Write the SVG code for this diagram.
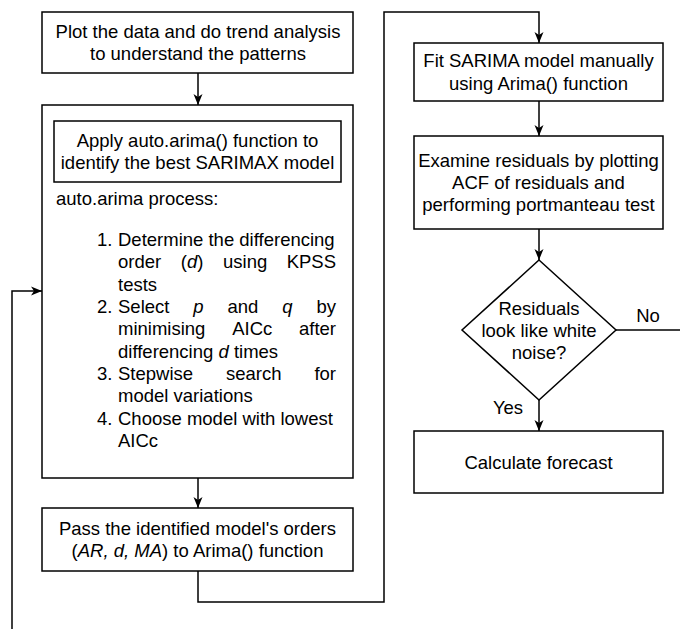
<svg xmlns="http://www.w3.org/2000/svg" width="680" height="629" viewBox="0 0 680 629">
<style>
.box{fill:#fff;stroke:#000;stroke-width:1.5}
.ln{fill:none;stroke:#000;stroke-width:1.5}
text{font-family:"Liberation Sans",Arial,Helvetica,sans-serif;font-size:18.5px;fill:#000}
.c{text-anchor:middle}
.e{text-anchor:end}
.i{font-style:italic}
</style>
<defs>
<marker id="arr" markerUnits="userSpaceOnUse" markerWidth="12" markerHeight="10" refX="11" refY="5" orient="auto">
<path d="M0,0.5 L11,5 L0,9.5 L3,5 Z" fill="#000"/>
</marker>
</defs>
<rect width="680" height="629" fill="#fff"/>
<g id="connectors">
<path class="ln" d="M198,73 V105" marker-end="url(#arr)"/>
<path class="ln" d="M198,478 V508" marker-end="url(#arr)"/>
<path class="ln" d="M198,571 V602 H384 V12 H539 V43" marker-end="url(#arr)"/>
<path class="ln" d="M539,101 V136" marker-end="url(#arr)"/>
<path class="ln" d="M539,229 V260" marker-end="url(#arr)"/>
<path class="ln" d="M539,400 V431" marker-end="url(#arr)"/>
<path class="ln" d="M616,330 H682"/>
<path class="ln" d="M12,632 V291 H42" marker-end="url(#arr)"/>
<text x="648" y="321.5" class="c">No</text>
<text x="508" y="413.5" class="c">Yes</text>
</g>
<g id="plot">
<rect class="box" x="42" y="12" width="311" height="61"/>
<text x="198" y="37.5" class="c">Plot the data and do trend analysis</text>
<text x="198" y="59.7" class="c">to understand the patterns</text>
</g>
<g id="autoarima">
<rect class="box" x="42" y="105" width="311" height="373"/>
<rect class="box" x="54" y="121" width="287" height="61"/>
<text x="197.5" y="146.9" class="c">Apply auto.arima() function to</text>
<text x="197.5" y="169.1" class="c">identify the best SARIMAX model</text>
<text x="56" y="205">auto.arima process:</text>
<text x="97" y="246">1.</text>
<text x="118" y="246">Determine the differencing</text>
<text x="118" y="268.3">order</text>
<text x="180.8" y="268.3">(<tspan class="i">d</tspan>)</text>
<text x="223" y="268.3">using</text>
<text x="336" y="268.3" class="e">KPSS</text>
<text x="118" y="290.7">tests</text>
<text x="97" y="313">2.</text>
<text x="118" y="313">Select</text>
<text x="193.3" y="313" class="i">p</text>
<text x="227.5" y="313">and</text>
<text x="282.3" y="313" class="i">q</text>
<text x="336" y="313" class="e">by</text>
<text x="118" y="335.4">minimising</text>
<text x="232.2" y="335.4">AICc</text>
<text x="336" y="335.4" class="e">after</text>
<text x="118" y="357.7">differencing <tspan class="i">d</tspan> times</text>
<text x="97" y="380">3.</text>
<text x="118" y="380">Stepwise</text>
<text x="226" y="380">search</text>
<text x="336" y="380" class="e">for</text>
<text x="118" y="402.4">model variations</text>
<text x="97" y="424.7">4.</text>
<text x="118" y="424.7">Choose model with lowest</text>
<text x="118" y="447">AICc</text>
</g>
<g id="pass">
<rect class="box" x="42" y="508" width="311" height="63"/>
<text x="197.5" y="534.9" class="c">Pass the identified model's orders</text>
<text x="197.5" y="557.1" class="c">(<tspan class="i">AR, d, MA</tspan>) to Arima() function</text>
</g>
<g id="fit">
<rect class="box" x="414" y="43" width="249" height="58"/>
<text x="538.5" y="67.4" class="c">Fit SARIMA model manually</text>
<text x="538.5" y="89.6" class="c">using Arima() function</text>
</g>
<g id="examine">
<rect class="box" x="414" y="136" width="249" height="93"/>
<text x="538.5" y="166.8" class="c">Examine residuals by plotting</text>
<text x="538.5" y="189" class="c">ACF of residuals and</text>
<text x="538.5" y="211.2" class="c">performing portmanteau test</text>
</g>
<g id="decision">
<path class="box" d="M539,260 L616,330 L539,400 L462,330 Z"/>
<text x="539" y="314.5" class="c">Residuals</text>
<text x="539" y="336.5" class="c">look like white</text>
<text x="539" y="358.5" class="c">noise?</text>
</g>
<g id="forecast">
<rect class="box" x="414" y="431" width="249" height="62"/>
<text x="538.5" y="468.5" class="c">Calculate forecast</text>
</g>
</svg>
